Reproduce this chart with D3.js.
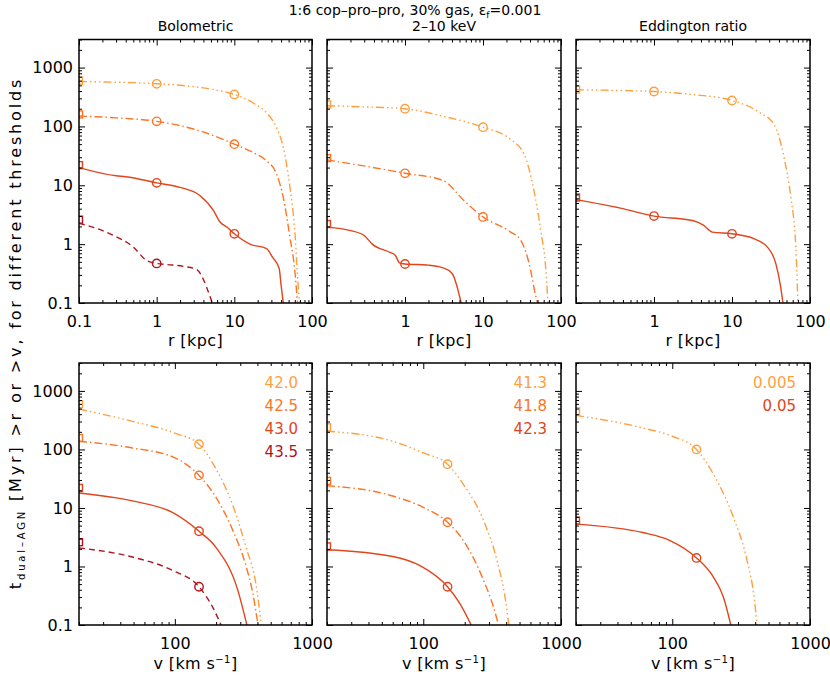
<!DOCTYPE html>
<html lang="en">
<head>
<meta charset="UTF-8">
<title>t dual-AGN, 1:6 cop-pro-pro</title>
<script src="https://cdn.jsdelivr.net/npm/d3@7"></script>
<style>
	body { margin: 0; background: #fff; }
	svg { font-family: 'DejaVu Sans', sans-serif; }
	text { white-space: pre; }
	.frame { fill: none; stroke: #000; stroke-width: 1.5px }
	.tick line { stroke: #000; stroke-width: 1px }
	.tick text { font-size: 16px; fill: #000 }
	.axis path { display: none }
	.ptitle { font-size: 14px }
	.xlabel { font-size: 16px }
	.legend text { font-size: 15px }
</style>
</head>
<body>
<script>

// thresholds (legend text)
var boloThr = ['42.0', '42.5', '43.0', '43.5'];
var xrayThr = ['41.3', '41.8', '42.3'];
var eddThr = ['0.005', '0.05'];

// tick labels
var rTickVals = [0.1, 1, 10, 100];
var rTickText = ['0.1', '1', '10', '100'];
var vTickVals = [100, 1000];
var vTickText = ['100', '1000'];
var tTickVals = [0.1, 1, 10, 100, 1000];
var tTickText = ['0.1', '1', '10', '100', '1000'];

// top row: time with separation > r  [r kpc, t Myr]
var rBolo42_0 = [[0.1,580],[0.2,570],[0.5,555],[1,530],[2,500],[5,430],[10,350],[17.5,250],[26,170],[35,95],[42.7,44],[52,9.2],[60,1.7],[66,0.22],[69,0.1]];
var rBolo42_5 = [[0.1,150],[0.3,140],[1,122],[3.6,84],[10,50],[17.5,36],[26,26],[35,15.5],[42.7,6.2],[52,1.3],[60,0.36],[65,0.1]];
var rBolo43_0 = [[0.1,20],[0.3,14.5],[0.4,14],[1,11],[2,9.2],[3.6,6.7],[5.4,3.7],[6.5,2.4],[8,1.95],[10,1.5],[15.9,1.0],[26,0.84],[31,0.6],[37.8,0.385],[40,0.2],[42.7,0.1]];
var rBolo43_5 = [[0.1,2.27],[0.25,1.5],[0.5,0.89],[0.74,0.53],[1,0.47],[1.35,0.45],[2.2,0.42],[3.3,0.37],[4,0.25],[4.85,0.13],[5.2,0.1]];

var rXray41_3 = [[0.1,225],[0.3,215],[1,200],[3,150],[10,97],[22.6,60],[33.6,34],[45,8.1],[55,1.7],[64,0.36],[68,0.1]];
var rXray41_8 = [[0.1,27],[0.32,21],[1,16],[3.1,12],[5.7,5.5],[10,2.9],[22.6,1.6],[30.5,1.16],[39,0.47],[47.5,0.13],[50,0.1]];
var rXray42_3 = [[0.1,1.95],[0.2,1.7],[0.3,1.4],[0.38,1.0],[0.65,0.72],[0.75,0.65],[0.85,0.48],[1,0.46],[2,0.44],[3,0.4],[4,0.32],[4.6,0.2],[5,0.13],[5.25,0.1]];

var rEdd005 = [[0.1,420],[0.3,410],[1,392],[3,350],[10,276],[23,170],[34.6,108],[46.5,29.5],[56.8,6.2],[65.8,0.89],[70,0.1]];
var rEdd05 = [[0.1,5.7],[0.37,4.1],[1,3.0],[3.2,2.5],[4.3,2.1],[5.6,1.6],[10,1.5],[19,1.24],[28.5,0.89],[36.4,0.47],[42,0.19],[45,0.1]];

// bottom row: time with velocity > v  [v km/s, t Myr]
var vBolo42_0 = [[20,489],[49,302],[100,190],[150,123],[200,46],[265,11],[331,2.1],[393,0.45],[427,0.1]];
var vBolo42_5 = [[20,138],[49,106],[100,72],[150,36],[200,15],[265,4.1],[331,1.0],[370,0.35],[404,0.1]];
var vBolo43_0 = [[20,18],[49,13.2],[96,8.4],[150,4.0],[200,2.1],[288,0.39],[335,0.1]];
var vBolo43_5 = [[20,2.08],[49,1.45],[96,0.86],[150,0.45],[189,0.2],[217,0.1]];

var vXray41_3 = [[20,205],[60,138],[100,87],[150,56],[195,25.5],[274,6.1],[343,1.27],[395,0.27],[418,0.1]];
var vXray41_8 = [[20,24],[60,16],[100,10.2],[150,5.7],[195,2.8],[274,0.58],[324,0.2],[352,0.1]];
var vXray42_3 = [[20,1.93],[60,1.48],[94,1.04],[150,0.45],[185,0.23],[223,0.1]];

var vEdd005 = [[20,382],[61,233],[100,168],[150,100],[199,37.7],[278,6.9],[349,1.27],[395,0.27],[413,0.1]];
var vEdd05 = [[20,5.3],[61,3.8],[95.5,2.8],[150,1.4],[199,0.66],[235,0.3],[266,0.1]];

// squares at the left edge (total time) and circles at r = 1, 10 kpc / v = 150 km/s
var sqBoloR = [600, 160, 22, 2.6];
var sqXrayR = [236, 29, 2.2];
var sqEddR = [424, 6.2];
var sqBoloV = [594, 157, 22, 2.6];
var sqXrayV = [239, 29, 2.2];
var sqEddV = [447, 6.1];

var circR = [1, 10];
var ciBoloR = [[530, 350], [122, 50], [11, 1.5], [0.47, null]];
var ciXrayR = [[200, 97], [16, 2.9], [0.46, null]];
var ciEddR = [[392, 276], [3.0, 1.5]];
var circV = [150];
var ciBoloV = [[123], [36], [4.0], [0.45]];
var ciXrayV = [[56], [5.7], [0.45]];
var ciEddV = [[100], [1.4]];

var colors = ['#ffa040', '#ff7424', '#e2441c', '#b0141c'];
var dashes = {
	dash3dot: '8,3,1.5,3,1.5,3,1.5,3',
	dashdot: '8,3,1.5,3',
	solid: null,
	dashed: '6,4'
};

var panels = [
	{ col: 0, row: 0, title: 'Bolometric', lines: [rBolo42_0, rBolo42_5, rBolo43_0, rBolo43_5], sq: sqBoloR, ci: ciBoloR, cx: circR,
		col_i: [0, 1, 2, 3], style: ['dash3dot', 'dashdot', 'solid', 'dashed'] },
	{ col: 1, row: 0, title: '2\u201310 keV', lines: [rXray41_3, rXray41_8, rXray42_3], sq: sqXrayR, ci: ciXrayR, cx: circR,
		col_i: [0, 1, 2], style: ['dash3dot', 'dashdot', 'solid'] },
	{ col: 2, row: 0, title: 'Eddington ratio', lines: [rEdd005, rEdd05], sq: sqEddR, ci: ciEddR, cx: circR,
		col_i: [0, 2], style: ['dash3dot', 'solid'] },
	{ col: 0, row: 1, lines: [vBolo42_0, vBolo42_5, vBolo43_0, vBolo43_5], sq: sqBoloV, ci: ciBoloV, cx: circV,
		col_i: [0, 1, 2, 3], style: ['dash3dot', 'dashdot', 'solid', 'dashed'], legend: boloThr },
	{ col: 1, row: 1, lines: [vXray41_3, vXray41_8, vXray42_3], sq: sqXrayV, ci: ciXrayV, cx: circV,
		col_i: [0, 1, 2], style: ['dash3dot', 'dashdot', 'solid'], legend: xrayThr },
	{ col: 2, row: 1, lines: [vEdd005, vEdd05], sq: sqEddV, ci: ciEddV, cx: circV,
		col_i: [0, 2], style: ['dash3dot', 'solid'], legend: eddThr }
];

var colX = [[79, 312], [327, 561], [576, 810]];
var rowY = [[39.5, 303], [363, 625]];

var svg = d3.select('body').append('svg')
	.attr('width', 830)
	.attr('height', 677);

var isMajor = d => Math.abs(Math.log10(d) - Math.round(Math.log10(d))) < 1e-6;

panels.forEach((p, pi) => {
	var x0 = colX[p.col][0], x1 = colX[p.col][1];
	var y0 = rowY[p.row][0], y1 = rowY[p.row][1];
	var xScale = d3.scaleLog().domain(p.row == 0 ? [0.1, 100] : [20, 1000]).range([x0, x1]);
	var yScale = d3.scaleLog().domain([0.1, 3000]).range([y1, y0]);

	svg.append('clipPath').attr('id', 'clip' + pi)
		.append('rect').attr('x', x0).attr('y', y0).attr('width', x1 - x0).attr('height', y1 - y0);

	var g = svg.append('g').attr('clip-path', 'url(#clip' + pi + ')');
	var line = d3.line()
		.x(d => xScale(d[0]))
		.y(d => yScale(d[1]))
		.curve(d3.curveMonotoneX);

	p.lines.forEach((data, i) => {
		var c = colors[p.col_i[i]];
		g.append('path')
			.attr('d', line(data))
			.style('fill', 'none')
			.style('stroke', c)
			.style('stroke-width', 1.4)
			.style('stroke-dasharray', dashes[p.style[i]]);

		// square at left edge
		var xs = xScale.domain()[0];
		g.append('rect')
			.attr('x', xScale(xs) - 3.5)
			.attr('y', yScale(p.sq[i]) - 3.5)
			.attr('width', 7).attr('height', 7)
			.style('fill', 'none').style('stroke', c).style('stroke-width', 1.4);

		p.cx.forEach((cxv, j) => {
			var tv = p.ci[i][j];
			if (tv == null) return;
			g.append('circle')
				.attr('cx', xScale(cxv))
				.attr('cy', yScale(tv))
				.attr('r', 4.2)
				.style('fill', 'none').style('stroke', c).style('stroke-width', 1.4);
		});
	});

	// axes: major and minor ticks on all four sides
	var xAll = xScale.ticks(), yAll = yScale.ticks();
	var xMaj = xAll.filter(isMajor), xMin = xAll.filter(d => !isMajor(d));
	var yMaj = yAll.filter(isMajor), yMin = yAll.filter(d => !isMajor(d));

	var xVals = p.row == 0 ? rTickVals : vTickVals;
	var xText = p.row == 0 ? rTickText : vTickText;
	var xFmt = d => {
		if (p.row == 0 && p.col > 0 && d < 1) return '';
		var k = xVals.findIndex(v => Math.abs(v - d) / v < 1e-6);
		return k < 0 ? '' : xText[k];
	};
	var yFmt = d => {
		if (p.col > 0) return '';
		var k = tTickVals.findIndex(v => Math.abs(v - d) / v < 1e-6);
		return k < 0 ? '' : tTickText[k];
	};

	svg.append('g').attr('class', 'axis').attr('transform', 'translate(0,' + y1 + ')')
		.call(d3.axisBottom(xScale).tickValues(xMaj).tickSize(-6).tickPadding(13).tickFormat(xFmt));
	svg.append('g').attr('class', 'axis').attr('transform', 'translate(0,' + y1 + ')')
		.call(d3.axisBottom(xScale).tickValues(xMin).tickSize(-3).tickFormat(''));
	svg.append('g').attr('class', 'axis').attr('transform', 'translate(0,' + y0 + ')')
		.call(d3.axisTop(xScale).tickValues(xMaj).tickSize(-6).tickFormat(''));
	svg.append('g').attr('class', 'axis').attr('transform', 'translate(0,' + y0 + ')')
		.call(d3.axisTop(xScale).tickValues(xMin).tickSize(-3).tickFormat(''));

	svg.append('g').attr('class', 'axis').attr('transform', 'translate(' + x0 + ',0)')
		.call(d3.axisLeft(yScale).tickValues(yMaj).tickSize(-6).tickPadding(6).tickFormat(yFmt));
	svg.append('g').attr('class', 'axis').attr('transform', 'translate(' + x0 + ',0)')
		.call(d3.axisLeft(yScale).tickValues(yMin).tickSize(-3).tickFormat(''));
	svg.append('g').attr('class', 'axis').attr('transform', 'translate(' + x1 + ',0)')
		.call(d3.axisRight(yScale).tickValues(yMaj).tickSize(-6).tickFormat(''));
	svg.append('g').attr('class', 'axis').attr('transform', 'translate(' + x1 + ',0)')
		.call(d3.axisRight(yScale).tickValues(yMin).tickSize(-3).tickFormat(''));

	svg.selectAll('.axis').attr('font-size', null).attr('font-family', null);

	svg.append('rect').attr('class', 'frame')
		.attr('x', x0).attr('y', y0).attr('width', x1 - x0).attr('height', y1 - y0);

	var xc = (x0 + x1) / 2;
	if (p.title) {
		svg.append('text').attr('class', 'ptitle')
			.attr('x', xc).attr('y', 31).attr('text-anchor', 'middle').text(p.title);
	}

	// x-axis label
	var xl = svg.append('text').attr('class', 'xlabel')
		.attr('x', xc).attr('text-anchor', 'middle')
		.style('letter-spacing', '0.4px');
	if (p.row == 0) {
		xl.attr('y', 346).text('r [kpc]');
	} else {
		xl.attr('y', 669);
		xl.append('tspan').text('v [km s');
		xl.append('tspan').attr('dy', -6).style('font-size', '10px').text('\u22121');
		xl.append('tspan').attr('dy', 6).text(']');
	}

	if (p.legend) {
		var lg = svg.append('g').attr('class', 'legend');
		p.legend.forEach((s, i) => {
			lg.append('text')
				.attr('x', x1 - 14)
				.attr('y', y0 + 25 + i * 23)
				.attr('text-anchor', 'end')
				.style('fill', colors[p.col_i[i]])
				.text(s);
		});
	}
});

// main title
var tt = svg.append('text').attr('x', 415).attr('y', 15)
	.attr('text-anchor', 'middle').style('font-size', '14px');
tt.append('tspan').text('1:6 cop\u2013pro\u2013pro, 30% gas, \u03b5');
tt.append('tspan').attr('dy', 3).style('font-size', '9px').text('f');
tt.append('tspan').attr('dy', -3).text('=0.001');

// y-axis label, stretched to the reference length
var yl = svg.append('text')
	.attr('transform', 'translate(21,333) rotate(-90)')
	.attr('text-anchor', 'middle')
	.style('font-size', '16px');
yl.append('tspan').text('t');
yl.append('tspan').attr('dy', 4).style('font-size', '10px').text('dual\u2013AGN');
yl.append('tspan').attr('dy', -4).text(' [Myr] >r or >v, for different thresholds');
var ylLen = yl.node().getComputedTextLength();
var nChars = yl.text().length;
yl.style('letter-spacing', ((512 - ylLen) / nChars) + 'px');

</script>
</body>
</html>
